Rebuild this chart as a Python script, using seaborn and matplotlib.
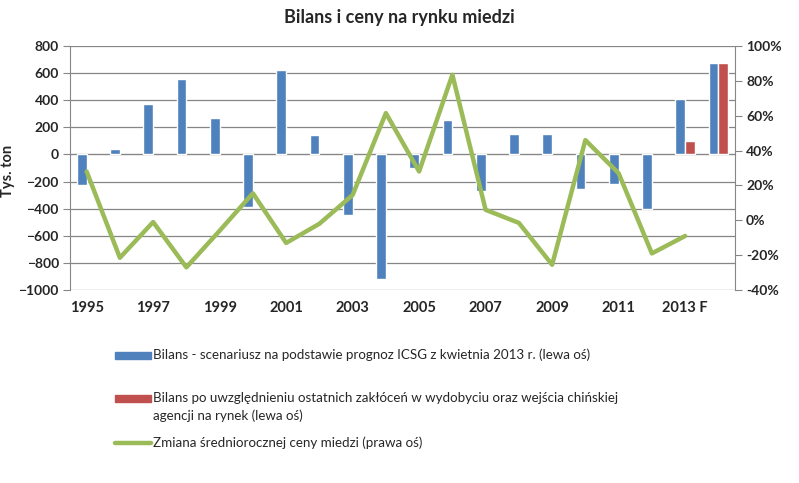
import matplotlib
matplotlib.use('Agg')
import matplotlib.pyplot as plt
from matplotlib.patches import Rectangle
from matplotlib.lines import Line2D
import numpy as np
import pandas as pd
import seaborn as sns

# Data
years = [str(y) for y in range(1995, 2013)] + ['2013 F', '2014 F']
bilans_icsg = [-224, 37, 369, 553, 271, -389, 620, 140, -445, -918,
               -98, 251, -266, 153, 153, -253, -216, -401, 411, 677]
bilans_zaklocenia = [np.nan] * 18 + [96, 677]
zmiana_ceny = [28, -21.5, -1, -27, -6, 15.5, -13, -2, 14.5, 61.5,
               28, 83.5, 6, -1.5, -25.5, 46, 27, -19, -9, np.nan]

label_blue = 'Bilans - scenariusz na podstawie prognoz ICSG z kwietnia 2013 r. (lewa oś)'
label_red = ('Bilans po uwzględnieniu ostatnich zakłóceń w wydobyciu oraz wejścia chińskiej\n'
             'agencji na rynek (lewa oś)')
label_green = 'Zmiana średniorocznej ceny miedzi (prawa oś)'

blue = '#4F81BD'
red = '#C0504D'
green = '#9BBB59'
grid = '#868686'

sns.set_style('white')
plt.rcParams['font.family'] = ['Lato', 'DejaVu Sans']

bars = pd.DataFrame({
    'rok': years * 2,
    'seria': ['icsg'] * len(years) + ['zakl'] * len(years),
    'bilans': bilans_icsg + bilans_zaklocenia,
})

fig = plt.figure(figsize=(7.99, 4.83), dpi=100)
ax = fig.add_axes([70 / 799, 1 - 290 / 483, 665 / 799, 244 / 483])

sns.barplot(data=bars, x='rok', y='bilans', hue='seria', order=years,
            hue_order=['icsg', 'zakl'], palette=[blue, red], width=0.58,
            dodge=True, legend=False, ax=ax, saturation=1)

ax.set_ylim(-1000, 800)
ax.set_yticks(range(-1000, 801, 200))
ax.set_xlim(-0.5, len(years) - 0.5)
ax.grid(axis='y', color=grid, linewidth=0.9)
ax.set_axisbelow(True)
ax.set_xlabel('')
ax.set_ylabel('Tys. ton', fontsize=10.5, fontweight='bold')
ax.yaxis.set_label_coords(-0.083, 0.49)
for side in ['top', 'right']:
    ax.spines[side].set_visible(False)
ax.spines['left'].set_color(grid)
ax.spines['bottom'].set_position(('data', 0))
ax.spines['bottom'].set_color(grid)
ax.spines['bottom'].set_zorder(0.5)
ax.tick_params(axis='y', length=5, color=grid, labelsize=10, pad=3)
for t in ax.get_yticklabels():
    t.set_fontweight('bold')

# tick marks on the zero axis every two categories, labels at the bottom
ax.set_xticks(np.arange(0.5, len(years) - 0.5, 2))
ax.tick_params(axis='x', direction='inout', length=8, color=grid, labelbottom=False)
sec = ax.secondary_xaxis(0.0)
sec.set_xticks(np.arange(0, len(years), 2))
sec.set_xticklabels(years[::2], fontsize=10.5, fontweight='bold')
sec.tick_params(length=0, pad=8)
sec.spines['bottom'].set_visible(False)

ax2 = ax.twinx()
sns.lineplot(x=np.arange(len(years)), y=zmiana_ceny, color=green, linewidth=3.2,
             ax=ax2, legend=False)
ax2.set_ylim(-40, 100)
ax2.set_yticks(range(-40, 101, 20))
ax2.set_yticklabels([f'{v}%' for v in range(-40, 101, 20)])
ax2.tick_params(axis='y', length=5, color=grid, labelsize=10, pad=3)
for t in ax2.get_yticklabels():
    t.set_fontweight('bold')
for side in ['top', 'left', 'bottom']:
    ax2.spines[side].set_visible(False)
ax2.spines['right'].set_color(grid)

fig.text(0.5, 1 - 17 / 483, 'Bilans i ceny na rynku miedzi', ha='center', va='center',
         fontsize=13, fontweight='bold')

# legend below the plot
def item(y_px, handle, text):
    x0, w = 115 / 799, 36 / 799
    yc = 1 - y_px / 483
    if handle == 'line':
        fig.add_artist(Line2D([x0, x0 + w], [yc, yc], color=green, linewidth=3.2,
                              transform=fig.transFigure))
    else:
        fig.add_artist(Rectangle((x0, yc - 3.5 / 483), w, 7 / 483, color=handle,
                                 transform=fig.transFigure))
    fig.text(x0 + w + 2 / 799, yc + 6.5 / 483, text, ha='left', va='top',
             fontsize=9.6, linespacing=1.6)

item(355, blue, label_blue)
item(398, red, label_red)
item(443, 'line', label_green)

fig.savefig('out.png', dpi=100)
